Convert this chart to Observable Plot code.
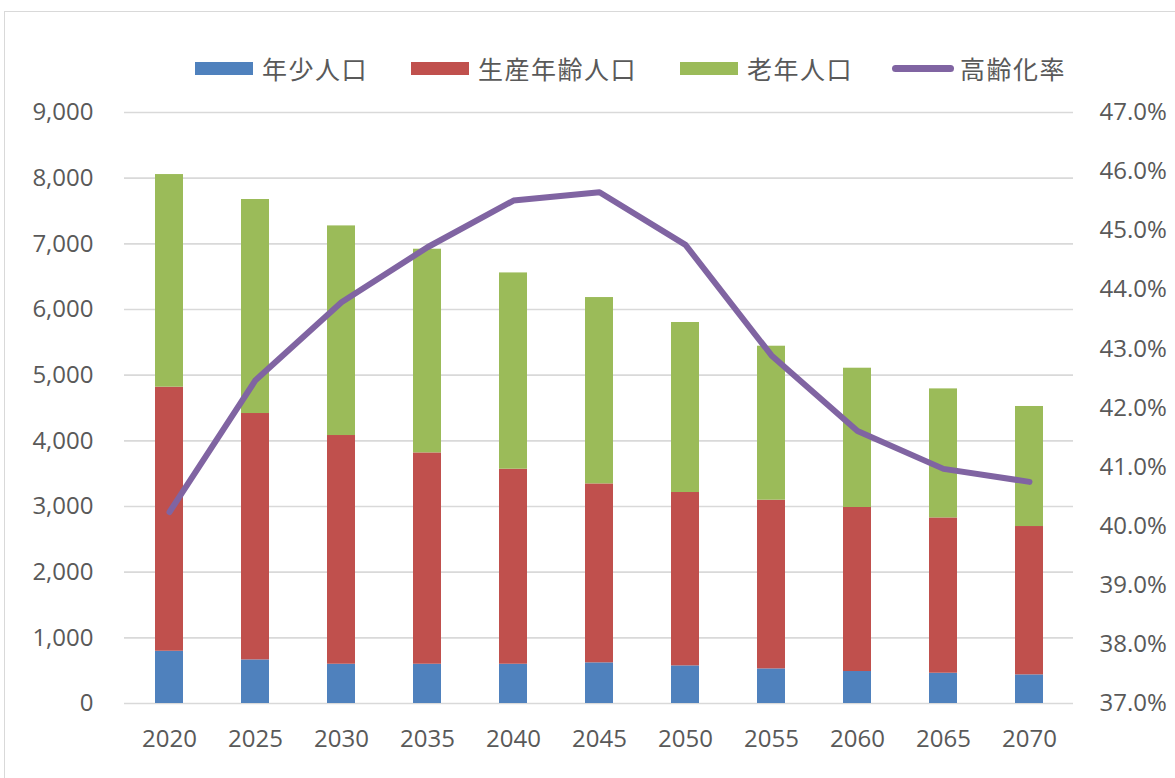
<!DOCTYPE html>
<html>
<head>
<meta charset="utf-8">
<script src="https://cdn.jsdelivr.net/npm/d3@7"></script>
<script src="https://cdn.jsdelivr.net/npm/@observablehq/plot@0.6"></script>
<style>
  html, body { margin: 0; padding: 0; background: #fff; overflow: hidden; }
  #wrap { position: relative; width: 1175px; height: 778px; }
  #frame { position: absolute; left: 4px; top: 11px; width: 1300px; height: 900px;
           border: 1.5px solid #d9d9d9; box-sizing: border-box; pointer-events: none; }
  #legend { position: relative; height: 95px; font-family: "Noto Sans CJK JP", sans-serif;
            font-size: 25px; color: #595959; }
  .item { position: absolute; top: 52px; display: flex; align-items: center; height: 32px; }
  .sw { width: 58px; height: 13px; margin-right: 9px; }
  .ln { width: 62px; height: 7px; border-radius: 4px; margin-right: 6px; }
  .lbl { letter-spacing: 1.5px; white-space: nowrap; }
  #chart svg { display: block; }
</style>
</head>
<body>
<div id="wrap">
  <div id="frame"></div>
  <div id="legend"></div>
  <div id="chart"></div>
</div>
<script>
// ---- data ----
const years = ["2020","2025","2030","2035","2040","2045","2050","2055","2060","2065","2070"];
const youngPop   = [796, 664, 598, 598, 598, 619, 573, 527, 487, 461, 436];
const workingPop = [4021, 3752, 3483, 3218, 2970, 2725, 2640, 2569, 2498, 2365, 2259];
const elderlyPop = [3238, 3259, 3192, 3102, 2989, 2838, 2589, 2345, 2121, 1965, 1828];
const agingRate  = [40.24, 42.47, 43.79, 44.72, 45.51, 45.65, 44.76, 42.89, 41.61, 40.97, 40.75];
const seriesNames = ["年少人口", "生産年齢人口", "老年人口"];
const lineName = "高齢化率";
const seriesColors = ["#4F81BD", "#C0504D", "#9BBB59"];
const lineColor = "#8064A2";
const leftTicks = [0, 1000, 2000, 3000, 4000, 5000, 6000, 7000, 8000, 9000];
const rightTicks = [37, 38, 39, 40, 41, 42, 43, 44, 45, 46, 47];

// ---- tables ----
const seriesValues = [youngPop, workingPop, elderlyPop];
const barData = [];
years.forEach((y, i) => {
  seriesNames.forEach((s, k) => barData.push({year: y, group: s, value: seriesValues[k][i]}));
});
const lineData = years.map((y, i) => ({year: y, rate: agingRate[i]}));
// right axis (37%..47%) mapped onto left scale (0..9000)
const rMin = 37, rMax = 47, lMax = 9000;
const toLeft = r => (r - rMin) / (rMax - rMin) * lMax;

// ---- legend ----
const legend = document.getElementById("legend");
const legendLeft = [195, 411, 680, 892];
seriesNames.forEach((s, k) => {
  const it = document.createElement("div");
  it.className = "item";
  it.style.left = legendLeft[k] + "px";
  it.innerHTML = `<div class="sw" style="background:${seriesColors[k]}"></div><span class="lbl">${s}</span>`;
  legend.appendChild(it);
});
{
  const it = document.createElement("div");
  it.className = "item";
  it.style.left = legendLeft[3] + "px";
  it.innerHTML = `<div class="ln" style="background:${lineColor}"></div><span class="lbl">${lineName}</span>`;
  legend.appendChild(it);
}

// ---- chart ----
const chart = Plot.plot({
  width: 1175,
  height: 683,
  marginTop: 17,
  marginBottom: 75,
  marginLeft: 124,
  marginRight: 102,
  style: {fontFamily: "'Open Sans', sans-serif", fontSize: "24px", color: "#595959", background: "transparent"},
  x: {type: "band", domain: years, paddingInner: 0.68, paddingOuter: 0.34, label: null},
  y: {domain: [0, lMax], label: null},
  color: {domain: seriesNames, range: seriesColors},
  marks: [
    Plot.gridY(leftTicks, {stroke: "#d9d9d9", strokeOpacity: 1, strokeWidth: 1.6}),
    Plot.barY(barData, {x: "year", y: "value", fill: "group", order: seriesNames, inset: 0}),
    Plot.line(lineData, {x: "year", y: d => toLeft(d.rate), stroke: lineColor, strokeWidth: 6,
                         strokeLinecap: "round", strokeLinejoin: "round"}),
    Plot.axisY(leftTicks, {anchor: "left", tickSize: 0, tickPadding: 31, label: null,
                           tickFormat: d3.format(","), fill: "#595959"}),
    Plot.axisY(rightTicks.map(toLeft), {anchor: "right", tickSize: 0, tickPadding: 26, label: null,
                           tickFormat: d => (rMin + d / lMax * (rMax - rMin)).toFixed(1) + "%", fill: "#595959"}),
    Plot.axisX({anchor: "bottom", tickSize: 0, tickPadding: 26, label: null, fill: "#595959"})
  ]
});
document.getElementById("chart").appendChild(chart);
</script>
</body>
</html>
